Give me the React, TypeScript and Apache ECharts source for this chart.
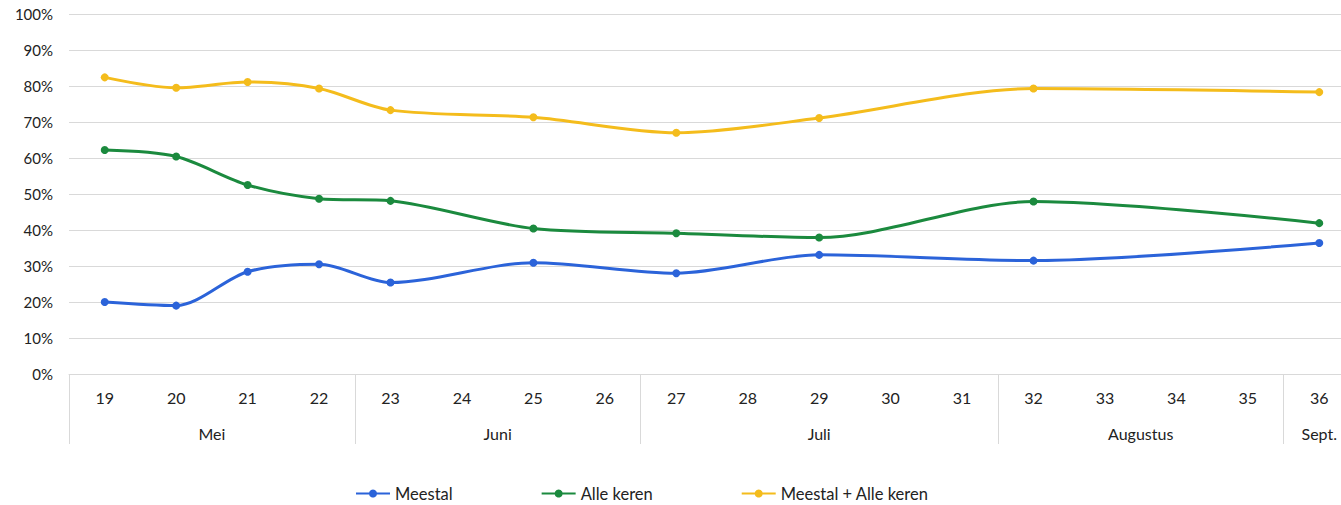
import React, { useEffect, useRef } from "react";
import * as echarts from "echarts";

const weeks = ["19","20","21","22","23","24","25","26","27","28","29","30","31","32","33","34","35","36"];
const months = ["Mei", "Juni", "Juli", "Augustus", "Sept."];
const monthWeekCounts = [4, 4, 5, 4, 1];
const yTicks = [0, 10, 20, 30, 40, 50, 60, 70, 80, 90, 100];

const meestal = [20.0, 19.0, 28.4, 30.5, 25.4, null, 30.9, null, 28.0, null, 33.1, null, null, 31.5, null, null, null, 36.4];
const alleKeren = [62.2, 60.4, 52.5, 48.7, 48.1, null, 40.4, null, 39.1, null, 37.9, null, null, 47.9, null, null, null, 41.9];
const beide = [82.4, 79.5, 81.1, 79.3, 73.3, null, 71.3, null, 67.0, null, 71.1, null, null, 79.3, null, null, null, 78.3];

const seriesNames = ["Meestal", "Alle keren", "Meestal + Alle keren"];
const seriesColors = ["#2b63d9", "#1b8a3e", "#f4bc1c"];

export default function App() {
  const ref = useRef<HTMLDivElement>(null);
  useEffect(() => {
    if (!ref.current) return;
    const chart = echarts.init(ref.current, undefined, { renderer: "svg" });
    const bounds: number[] = [0];
    const centers: number[] = [];
    let acc = 0;
    monthWeekCounts.forEach((c) => {
      centers.push(acc + c / 2);
      acc += c;
      bounds.push(acc);
    });
    const font = "Lato";
    const data = [meestal, alleKeren, beide];
    chart.setOption({
      animation: false,
      grid: { left: 69, right: 0, top: 14, bottom: 131, containLabel: false },
      legend: {
        left: 355,
        top: 485,
        padding: 0,
        itemGap: 88,
        itemWidth: 34,
        itemHeight: 10,
        textStyle: { fontFamily: font, fontSize: 16.5, color: "#222" },
        data: seriesNames,
      },
      xAxis: [
        {
          type: "category",
          data: weeks,
          boundaryGap: true,
          axisLine: { show: true, lineStyle: { color: "#d9d9d9", width: 1 } },
          axisTick: { show: false },
          axisLabel: { margin: 15, fontFamily: font, fontSize: 16, color: "#222" },
          splitLine: { show: false },
        },
        {
          type: "value",
          min: 0,
          max: weeks.length,
          position: "bottom",
          axisLine: { show: false },
          splitLine: { show: false },
          axisTick: {
            show: true,
            customValues: bounds,
            length: 70,
            lineStyle: { color: "#d9d9d9", width: 1 },
          },
          axisLabel: {
            show: true,
            customValues: centers,
            margin: 51,
            fontFamily: font,
            fontSize: 16,
            color: "#222",
            formatter: (v: number) => {
              const i = centers.indexOf(v);
              return i >= 0 ? months[i] : "";
            },
          },
        },
      ],
      yAxis: {
        type: "value",
        min: 0,
        max: 100,
        interval: 10,
        axisLine: { show: false },
        axisTick: { show: false },
        axisLabel: {
          margin: 16,
          fontFamily: font,
          fontSize: 15,
          color: "#222",
          formatter: (v: number) => (yTicks.includes(v) ? v + "%" : ""),
        },
        splitLine: { lineStyle: { color: "#d9d9d9", width: 1 } },
      },
      series: data.map((d, i) => ({
        name: seriesNames[i],
        type: "line",
        xAxisIndex: 0,
        data: d,
        connectNulls: true,
        smooth: 0.3,
        symbol: "circle",
        symbolSize: 8,
        lineStyle: { width: 3, color: seriesColors[i] },
        itemStyle: { color: seriesColors[i] },
      })),
    });
    return () => chart.dispose();
  }, []);
  return (
    <div
      style={{ position: "absolute", left: 0, top: 0, width: 1341, height: 505, overflow: "hidden", background: "#fff" }}
    >
      <div ref={ref} style={{ width: 1355, height: 505 }} />
    </div>
  );
}
